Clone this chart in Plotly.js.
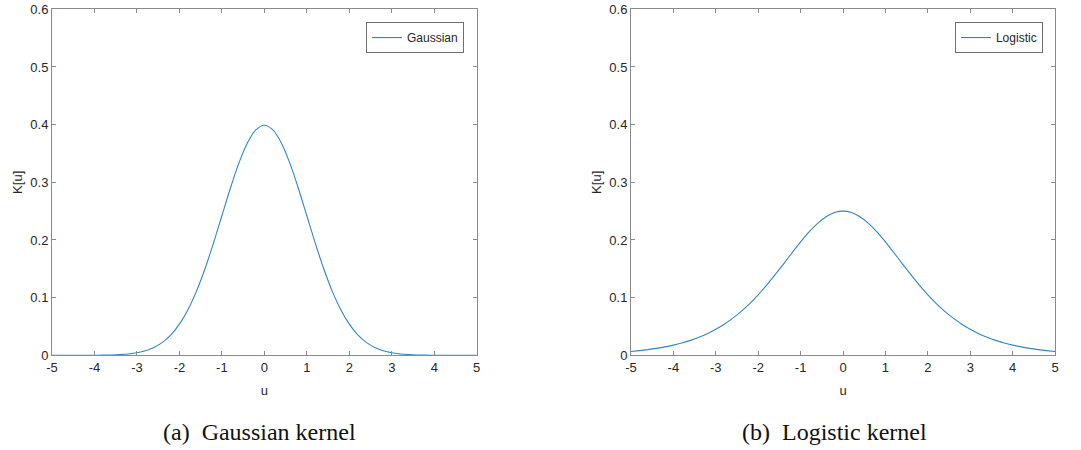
<!DOCTYPE html>
<html>
<head>
<meta charset="utf-8">
<script src="https://cdn.plot.ly/plotly-3.0.1.min.js"></script>
<style>
  html, body { margin: 0; padding: 0; background: #ffffff; }
  #chart { width: 1081px; height: 450px; }
</style>
</head>
<body>
<div id="chart"></div>
<script>
// Sample positions along u
const uValues = [-5, -4.8, -4.6, -4.4, -4.2, -4, -3.8, -3.6, -3.4, -3.2, -3, -2.8, -2.6, -2.4, -2.2, -2, -1.8, -1.6, -1.4, -1.2, -1, -0.8, -0.6, -0.4, -0.2,
  0, 0.2, 0.4, 0.6, 0.8, 1, 1.2, 1.4, 1.6, 1.8, 2, 2.2, 2.4, 2.6, 2.8, 3, 3.2, 3.4, 3.6, 3.8, 4, 4.2, 4.4, 4.6, 4.8, 5];

// Gaussian kernel K[u]
const gaussianK = [0.0000, 0.0000, 0.0000, 0.0000, 0.0000, 0.0001, 0.0003, 0.0006, 0.0012, 0.0024, 0.0044, 0.0079, 0.0136, 0.0224, 0.0355, 0.0540, 0.0790, 0.1109, 0.1497, 0.1942, 0.2420, 0.2897, 0.3332, 0.3683, 0.3910,
  0.3989, 0.3910, 0.3683, 0.3332, 0.2897, 0.2420, 0.1942, 0.1497, 0.1109, 0.0790, 0.0540, 0.0355, 0.0224, 0.0136, 0.0079, 0.0044, 0.0024, 0.0012, 0.0006, 0.0003, 0.0001, 0.0000, 0.0000, 0.0000, 0.0000, 0.0000];

// Logistic kernel K[u]
const logisticK = [0.0066, 0.0081, 0.0099, 0.0120, 0.0146, 0.0177, 0.0214, 0.0259, 0.0313, 0.0376, 0.0452, 0.0540, 0.0644, 0.0763, 0.0898, 0.1050, 0.1217, 0.1398, 0.1587, 0.1779, 0.1966, 0.2139, 0.2288, 0.2403, 0.2475,
  0.2500, 0.2475, 0.2403, 0.2288, 0.2139, 0.1966, 0.1779, 0.1587, 0.1398, 0.1217, 0.1050, 0.0898, 0.0763, 0.0644, 0.0540, 0.0452, 0.0376, 0.0313, 0.0259, 0.0214, 0.0177, 0.0146, 0.0120, 0.0099, 0.0081, 0.0066];

const xTicks = [-5, -4, -3, -2, -1, 0, 1, 2, 3, 4, 5];
const yTicks = [0, 0.1, 0.2, 0.3, 0.4, 0.5, 0.6];

const seriesNames = ['Gaussian', 'Logistic'];
const captions = ['(a)\u2002Gaussian kernel', '(b)\u2002Logistic kernel'];

const lineColor = '#2f86c4';
const axisColor = '#8a8a8a';
const textColor = '#262626';
const sans = 'Liberation Sans, Arial, sans-serif';
const serif = 'Liberation Serif, Times New Roman, serif';

const traces = [
  {
    x: uValues, y: gaussianK, name: seriesNames[0], type: 'scatter', mode: 'lines',
    line: { color: lineColor, width: 1.1, shape: 'spline', smoothing: 0.8 },
    xaxis: 'x', yaxis: 'y', legend: 'legend'
  },
  {
    x: uValues, y: logisticK, name: seriesNames[1], type: 'scatter', mode: 'lines',
    line: { color: lineColor, width: 1.1, shape: 'spline', smoothing: 0.8 },
    xaxis: 'x2', yaxis: 'y2', legend: 'legend2'
  }
];

function xAxis(domain, anchor) {
  return {
    domain: domain, anchor: anchor, range: [-5, 5],
    tickvals: xTicks, ticktext: xTicks.map(String),
    ticks: 'inside', ticklen: 4, tickcolor: axisColor, tickwidth: 1,
    showline: true, linecolor: axisColor, linewidth: 1, mirror: 'ticks',
    showgrid: false, zeroline: false,
    tickfont: { family: sans, size: 13, color: textColor },
    title: { text: 'u', font: { family: sans, size: 13, color: textColor }, standoff: 11 }
  };
}
function yAxis(domain, anchor) {
  return {
    domain: domain, anchor: anchor, range: [0, 0.6],
    tickvals: yTicks, ticktext: yTicks.map(String),
    ticks: 'inside', ticklen: 4, tickcolor: axisColor, tickwidth: 1,
    showline: true, linecolor: axisColor, linewidth: 1, mirror: 'ticks',
    showgrid: false, zeroline: false,
    tickfont: { family: sans, size: 13, color: textColor },
    title: { text: 'K[u]', font: { family: sans, size: 13, color: textColor }, standoff: 4 }
  };
}

function legendBox(xRight) {
  return {
    x: xRight, xanchor: 'right', y: 0.951, yanchor: 'top',
    bgcolor: '#ffffff', bordercolor: '#6e6e6e', borderwidth: 1,
    font: { family: sans, size: 12, color: textColor },
    itemwidth: 30, tracegroupgap: 0
  };
}

const layout = {
  width: 1081, height: 450,
  margin: { l: 0, r: 0, t: 0, b: 0 },
  paper_bgcolor: '#ffffff', plot_bgcolor: '#ffffff',
  showlegend: true,
  xaxis: xAxis([0.0481, 0.4410], 'y'),
  yaxis: yAxis([0.2104, 0.9793], 'x'),
  xaxis2: xAxis([0.5837, 0.9760], 'y2'),
  yaxis2: yAxis([0.2104, 0.9793], 'x2'),
  legend: legendBox(0.4292),
  legend2: legendBox(0.9648),
  annotations: [
    { text: captions[0], xref: 'paper', yref: 'paper', x: 0.240, y: 0.04, xanchor: 'center', yanchor: 'middle',
      showarrow: false, font: { family: serif, size: 24, color: '#111111' } },
    { text: captions[1], xref: 'paper', yref: 'paper', x: 0.772, y: 0.04, xanchor: 'center', yanchor: 'middle',
      showarrow: false, font: { family: serif, size: 24, color: '#111111' } }
  ]
};

Plotly.newPlot('chart', traces, layout, { staticPlot: true, displayModeBar: false });
</script>
</body>
</html>
